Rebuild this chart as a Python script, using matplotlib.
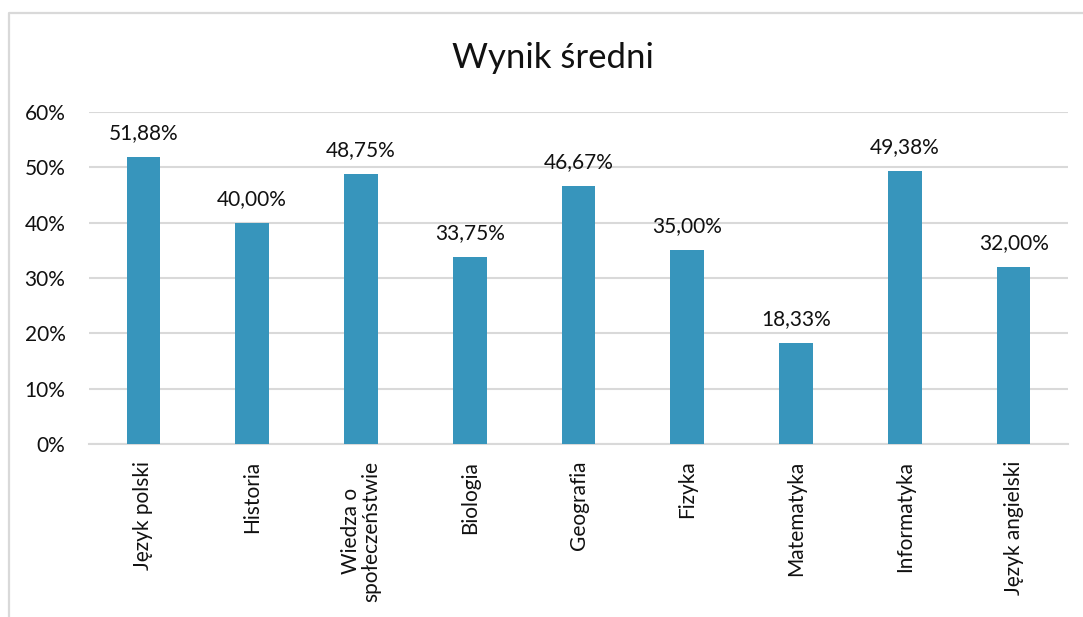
import matplotlib
matplotlib.use("Agg")
import matplotlib.pyplot as plt
from matplotlib.lines import Line2D
from matplotlib.ticker import FuncFormatter

categories = ["Język polski", "Historia", "Wiedza o\nspołeczeństwie", "Biologia",
              "Geografia", "Fizyka", "Matematyka", "Informatyka", "Język angielski"]
values = [51.88, 40.00, 48.75, 33.75, 46.67, 35.00, 18.33, 49.38, 32.00]
labels = ["51,88%", "40,00%", "48,75%", "33,75%", "46,67%", "35,00%", "18,33%", "49,38%", "32,00%"]
yticks = [0, 10, 20, 30, 40, 50, 60]

plt.rcParams['font.family'] = ['Lato', 'DejaVu Sans']

W, H = 1083, 617
fig = plt.figure(figsize=(W / 100, H / 100), dpi=100)
ax = fig.add_axes([89 / W, 1 - 444 / H, (1068 - 89) / W, (444 - 112) / H])

x = list(range(len(categories)))
ax.bar(x, values, width=0.31, color="#3795BC", zorder=3)
for xi, v, lab in zip(x, values, labels):
    ax.annotate(lab, (xi, v), xytext=(0, 10), textcoords="offset points",
                ha="center", va="bottom", fontsize=15, color="#111111")

ax.set_xlim(-0.5, len(categories) - 0.5)
ax.set_ylim(0, 60)
ax.set_yticks(yticks)
ax.yaxis.set_major_formatter(FuncFormatter(lambda v, p: f"{int(v)}%"))
ax.grid(axis="y", color="#d9d9d9", linewidth=1.5, zorder=0)
ax.set_xticks(x)
ax.set_xticklabels(categories, rotation=90, ha="center", va="top", fontsize=15,
                   multialignment="center", linespacing=1.0)
ax.tick_params(axis="both", length=0, labelsize=15, colors="#111111")
ax.tick_params(axis="x", pad=12)
ax.tick_params(axis="y", pad=17)
for s in ["top", "right", "left"]:
    ax.spines[s].set_visible(False)
ax.spines["bottom"].set_color("#d9d9d9")
ax.spines["bottom"].set_linewidth(1.5)

fig.text(553 / W, 1 - 58 / H, "Wynik średni", ha="center", va="center",
         fontsize=25, color="#111111")

fig.add_artist(Line2D([8.5 / W, 8.5 / W, 1.0], [0.0, 1 - 13 / H, 1 - 13 / H],
                      transform=fig.transFigure, color="#d9d9d9", linewidth=1.6))

fig.savefig("out.png", dpi=100, facecolor="white")
